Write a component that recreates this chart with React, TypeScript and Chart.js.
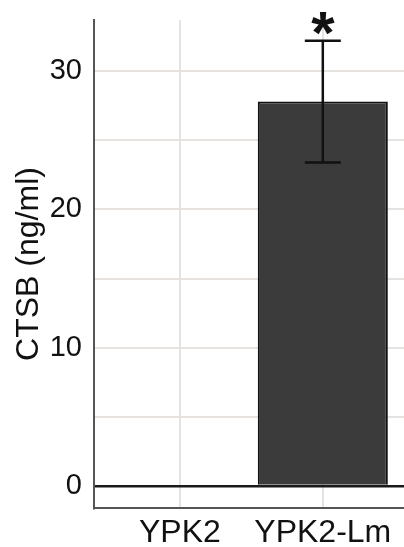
import React, { useEffect, useRef } from "react";
import { Chart, registerables } from "chart.js";

Chart.register(...registerables);

const categories = ["YPK2", "YPK2-Lm"];
const means = [0, 27.8];
const sds = [0, 4.4];
const significance = ["", "*"];
const yTickValues = [0, 5, 10, 15, 20, 25, 30];
const yLabelValues = [0, 10, 20, 30];
const yTitle = "CTSB (ng/ml)";

const FONT = "'Liberation Sans', Arial, sans-serif";

const errorBarPlugin = {
  id: "errorBars",
  afterDatasetsDraw(chart: any) {
    const { ctx, scales } = chart;
    const xs = scales.x;
    const ys = scales.y;
    ctx.save();
    means.forEach((m, i) => {
      const sd = sds[i];
      const x = xs.getPixelForValue(i);
      if (sd > 0) {
        const yTop = ys.getPixelForValue(m + sd);
        const yBot = ys.getPixelForValue(m - sd);
        ctx.strokeStyle = "#111";
        ctx.lineWidth = 2.5;
        ctx.beginPath();
        ctx.moveTo(x, yTop);
        ctx.lineTo(x, yBot);
        ctx.moveTo(x - 18, yTop);
        ctx.lineTo(x + 18, yTop);
        ctx.moveTo(x - 18, yBot);
        ctx.lineTo(x + 18, yBot);
        ctx.stroke();
      }
      const s = significance[i];
      if (s) {
        const yTop = ys.getPixelForValue(m + sd);
        ctx.font = `bold 60px ${FONT}`;
        ctx.fillStyle = "#111";
        ctx.textAlign = "center";
        ctx.textBaseline = "alphabetic";
        const mt = ctx.measureText(s);
        const targetBottom = yTop - 6;
        const baseline = targetBottom - mt.actualBoundingBoxDescent;
        ctx.fillText(s, x, baseline);
      }
    });
    ctx.restore();
  },
};

export default function App() {
  const ref = useRef<HTMLCanvasElement>(null);
  useEffect(() => {
    const canvas = ref.current!;
    const chart = new Chart(canvas, {
      type: "bar",
      data: {
        datasets: [
          {
            data: means.map((v, i) => ({ x: i, y: v })),
            backgroundColor: "#3b3b3b",
            borderColor: "#111",
            borderWidth: 2,
            barPercentage: 0.91,
            categoryPercentage: 1,
          },
        ],
      },
      options: {
        responsive: false,
        animation: false,
        layout: { padding: { top: 20, left: 0, right: 0, bottom: 0 } },
        plugins: { legend: { display: false }, tooltip: { enabled: false } },
        scales: {
          x: {
            type: "linear",
            offset: false,
            min: -0.601,
            max: 1.75,
            afterBuildTicks: (s: any) => {
              s.ticks = categories.map((_, i) => ({ value: i }));
            },
            afterFit: (s: any) => {
              s.height = 39;
              s.paddingLeft = 0;
              s.paddingRight = 0;
            },
            ticks: {
              callback: (v: any) => categories[v] ?? "",
              font: { family: FONT, size: 32 },
              color: "#111",
              padding: 6,
              maxRotation: 0,
              autoSkip: false,
            },
            grid: { offset: false, color: "#e4e2e2", lineWidth: 2, drawTicks: false },
            border: { color: "#555", width: 2 },
          },
          y: {
            min: -1.6,
            max: 33.7,
            afterBuildTicks: (s: any) => {
              s.ticks = yTickValues.map((v) => ({ value: v }));
            },
            afterFit: (s: any) => {
              s.width = 94;
              s.paddingTop = 0;
              s.paddingBottom = 0;
            },
            ticks: {
              callback: (v: any) => (yLabelValues.includes(v) ? String(v) : ""),
              font: { family: FONT, size: 29 },
              color: "#111",
              padding: 12,
            },
            grid: {
              color: (c: any) => (c.tick && c.tick.value === 0 ? "#1a1a1a" : "#e6e2e0"),
              lineWidth: (c: any) => (c.tick && c.tick.value === 0 ? 2.5 : 2),
              drawTicks: false,
            },
            border: { color: "#555", width: 2 },
            title: {
              display: true,
              text: yTitle,
              font: { family: FONT, size: 32 },
              color: "#111",
              padding: { top: 10, bottom: 0 },
            },
          },
        },
      },
      plugins: [errorBarPlugin],
    });
    return () => chart.destroy();
  }, []);
  return (
    <div
      style={{
        position: "absolute",
        left: 0,
        top: 0,
        width: 404,
        height: 547,
        overflow: "hidden",
        background: "#fff",
      }}
    >
      <canvas ref={ref} width={430} height={547} style={{ display: "block" }} />
    </div>
  );
}
